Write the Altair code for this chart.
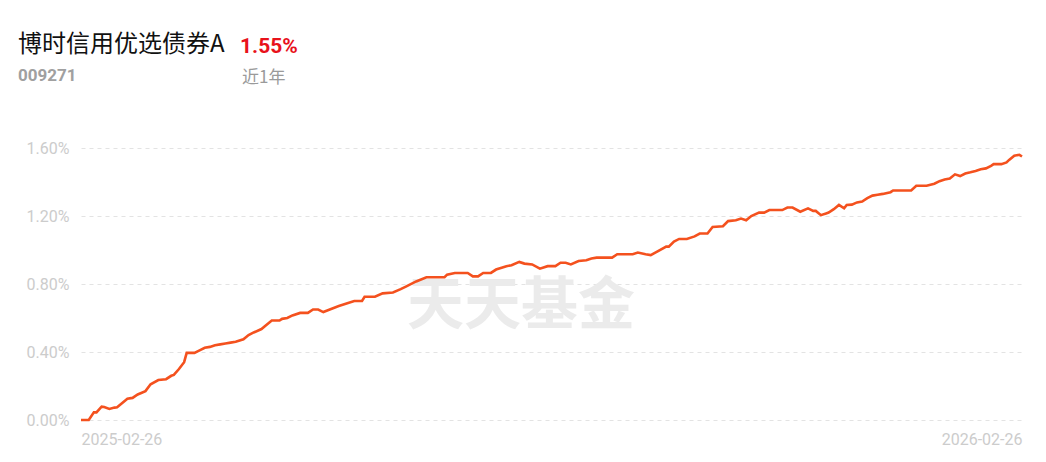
import altair as alt
import pandas as pd

# day offsets from 2025-02-26 and cumulative return (%)
days = [0, 3, 5, 6, 8, 9, 11, 13, 14, 16, 18, 20, 22, 25, 27, 30, 33, 35, 36, 38,
        40, 41, 44, 46, 48, 50, 52, 54, 56, 58, 60, 63, 65, 67, 70, 72, 74, 77, 78, 80,
        82, 85, 88, 90, 92, 94, 97, 99, 100, 103, 106, 109, 110, 114, 117, 121, 124, 126, 130, 134,
        141, 142, 145, 150, 152, 154, 156, 159, 161, 165, 167, 170, 172, 175, 178, 181, 184, 186, 188, 190,
        193, 196, 198, 200, 206, 208, 214, 216, 219, 221, 224, 227, 228, 230, 232, 235, 238, 240, 243, 245,
        249, 251, 254, 256, 258, 260, 263, 265, 267, 272, 274, 276, 279, 282, 284, 285, 287, 289, 290, 292,
        294, 296, 297, 299, 301, 303, 305, 307, 309, 311, 314, 315, 322, 324, 328, 331, 333, 335, 337, 339,
        341, 343, 345, 347, 349, 351, 353, 354, 357, 359, 360, 362, 364, 365]
values = [0.000, 0.000, 0.045, 0.045, 0.078, 0.076, 0.065, 0.073, 0.075, 0.100, 0.125, 0.130, 0.150, 0.170, 0.210, 0.235, 0.240, 0.260, 0.265, 0.300,
          0.340, 0.395, 0.395, 0.410, 0.425, 0.430, 0.440, 0.445, 0.450, 0.455, 0.460, 0.475, 0.500, 0.515, 0.535, 0.560, 0.585, 0.585, 0.595, 0.600,
          0.615, 0.630, 0.630, 0.650, 0.650, 0.635, 0.653, 0.665, 0.670, 0.685, 0.700, 0.700, 0.725, 0.725, 0.745, 0.750, 0.770, 0.785, 0.815, 0.840,
          0.840, 0.855, 0.865, 0.865, 0.845, 0.845, 0.865, 0.865, 0.885, 0.905, 0.910, 0.930, 0.920, 0.915, 0.890, 0.905, 0.905, 0.925, 0.925, 0.915,
          0.935, 0.940, 0.950, 0.955, 0.955, 0.975, 0.975, 0.985, 0.975, 0.970, 0.995, 1.020, 1.020, 1.050, 1.065, 1.065, 1.080, 1.097, 1.097, 1.135,
          1.140, 1.170, 1.175, 1.185, 1.175, 1.200, 1.220, 1.220, 1.235, 1.235, 1.250, 1.250, 1.225, 1.245, 1.230, 1.230, 1.205, 1.215, 1.220, 1.240,
          1.265, 1.245, 1.265, 1.267, 1.280, 1.285, 1.305, 1.320, 1.325, 1.330, 1.340, 1.350, 1.350, 1.378, 1.378, 1.390, 1.405, 1.415, 1.420, 1.445,
          1.435, 1.450, 1.457, 1.465, 1.475, 1.480, 1.495, 1.505, 1.505, 1.515, 1.530, 1.555, 1.560, 1.550]

start_date = "2025-02-26"
end_date = "2026-02-26"
y_ticks = [0.0, 0.4, 0.8, 1.2, 1.6]

fund_name = "博时信用优选债券A"
fund_code = "009271"
ret_text = "1.55%"
period_text = "近1年"
watermark = "天天基金"

df = pd.DataFrame({
    "date": pd.Timestamp(start_date) + pd.to_timedelta(days, unit="D"),
    "ret": values,
})

x_enc = alt.X(
    "date:T",
    scale=alt.Scale(domain=[alt.DateTime(year=2025, month=2, date=26),
                            alt.DateTime(year=2026, month=2, date=26)], nice=False),
    axis=alt.Axis(
        values=[alt.DateTime(year=2025, month=2, date=26),
                alt.DateTime(year=2026, month=2, date=26)],
        format="%Y-%m-%d", labelFlush=True, grid=False, ticks=False, domain=False,
        labelColor="#cccccc", labelFontSize=16, labelPadding=11, title=None,
        labelFont="Roboto",
    ),
)
y_enc = alt.Y(
    "ret:Q",
    scale=alt.Scale(domain=[0, 1.6], nice=False, zero=False),
    axis=alt.Axis(
        values=y_ticks, labelExpr="format(datum.value, '.2f') + '%'",
        grid=True, gridDash=[4, 4], gridColor="#e3e3e3", gridWidth=1,
        ticks=False, domain=False, labelColor="#cccccc", labelFontSize=16,
        labelPadding=12, title=None, labelFont="Roboto",
    ),
)

line = alt.Chart(df).mark_line(color="#f4511e", strokeWidth=2.6, interpolate="linear").encode(
    x=x_enc, y=y_enc
)

wm = alt.Chart(pd.DataFrame({"t": [watermark]})).mark_text(
    font="Noto Sans CJK SC", fontSize=57, fontWeight="bold", color="#ebebeb",
    align="center", baseline="middle"
).encode(text="t:N", x=alt.value(440), y=alt.value(159))

title1 = alt.Chart(pd.DataFrame({"t": [fund_name]})).mark_text(
    font="Noto Sans CJK SC", fontSize=24, color="#111111", align="left", baseline="alphabetic"
).encode(text="t:N", x=alt.value(-63), y=alt.value(-96))

title2 = alt.Chart(pd.DataFrame({"t": [ret_text]})).mark_text(
    font="Roboto", fontSize=21, fontWeight="bold", color="#e8121b", align="left", baseline="alphabetic"
).encode(text="t:N", x=alt.value(159), y=alt.value(-95))

code = alt.Chart(pd.DataFrame({"t": [fund_code]})).mark_text(
    font="Roboto", fontSize=17, fontWeight="bold", color="#a0a0a0", align="left", baseline="alphabetic"
).encode(text="t:N", x=alt.value(-63), y=alt.value(-67))

period = alt.Chart(pd.DataFrame({"t": [period_text]})).mark_text(
    font="Noto Sans CJK SC", fontSize=17, color="#9a9a9a", align="left", baseline="alphabetic"
).encode(text="t:N", x=alt.value(161), y=alt.value(-65))

chart = alt.layer(wm, line, title1, title2, code, period).properties(
    width=941, height=272,
    autosize=alt.AutoSizeParams(type="none"),
    padding={"left": 73, "top": 140, "right": 16, "bottom": 34},
    background="#ffffff",
).configure_view(stroke=None)

chart.save("out.html", embed_options={"renderer": "svg", "actions": False})
